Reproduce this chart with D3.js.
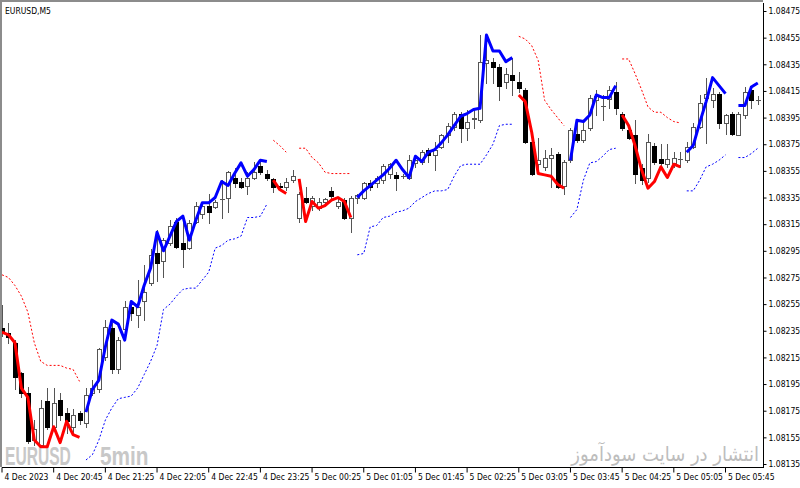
<!DOCTYPE html>
<html>
<head>
<meta charset="utf-8">
<script src="https://cdnjs.cloudflare.com/ajax/libs/d3/7.8.5/d3.min.js"></script>
<style>
  body { margin: 0; background: #fff; }
  svg { display: block; font-family: "DejaVu Sans Condensed", "DejaVu Sans", sans-serif; font-stretch: condensed; }
</style>
</head>
<body>
<div id="chart"></div>
<script>
// EURUSD M5 candles (bar 0 = 4 Dec 20:05)
const N = null;

const opens = [
  1.08237, 1.08233, 1.08226, 1.08203, 1.08188, 1.08153, 1.08149, 1.08182, 1.08163, 1.08183,
  1.08173, 1.08163, 1.08173, 1.08166, 1.08188, 1.08191, 1.08215, 1.08237, 1.08206, 1.08236,
  1.08253, 1.08247, 1.08257, 1.08271, 1.08293, 1.08287, 1.08301, 1.08317, 1.08301, 1.08297,
  1.08317, 1.08323, 1.08329, 1.08328, 1.08334, 1.08335, 1.08350, 1.08347, 1.08344, 1.08350,
  1.08359, 1.08353, 1.08349, 1.08344, 1.08343, 1.08348, 1.08320, 1.08335, 1.08329, 1.08327,
  1.08332, 1.08340, 1.08329, 1.08333, 1.08320, 1.08335, 1.08335, 1.08346, 1.08346, 1.08348,
  1.08353, 1.08352, 1.08351, 1.08350, 1.08361, 1.08362, 1.08371, 1.08367, 1.08373, 1.08382,
  1.08388, 1.08398, 1.08387, 1.08394, 1.08393, 1.08436, 1.08437, 1.08433, 1.08422, 1.08427,
  1.08422, 1.08416, 1.08377, 1.08360, 1.08358, 1.08365, 1.08368, 1.08344, 1.08363, 1.08383,
  1.08378, 1.08387, 1.08408, 1.08404, 1.08409, 1.08414, 1.08398, 1.08386, 1.08382, 1.08357,
  1.08350, 1.08374, 1.08364, 1.08360, 1.08361, 1.08364, 1.08363, 1.08373, 1.08388, 1.08410,
  1.08408, 1.08413, 1.08391, 1.08398, 1.08382, 1.08397, 1.08416, 1.08408
];
const highs = [
  1.08254, 1.08241, 1.08228, 1.08204, 1.08193, 1.08168, 1.08183, 1.08192, 1.08192, 1.08188,
  1.08177, 1.08176, 1.08175, 1.08192, 1.08198, 1.08222, 1.08243, 1.08241, 1.08230, 1.08257,
  1.08257, 1.08273, 1.08284, 1.08296, 1.08311, 1.08305, 1.08318, 1.08320, 1.08322, 1.08318,
  1.08332, 1.08332, 1.08338, 1.08333, 1.08348, 1.08355, 1.08357, 1.08350, 1.08354, 1.08362,
  1.08362, 1.08356, 1.08350, 1.08346, 1.08350, 1.08356, 1.08339, 1.08343, 1.08336, 1.08335,
  1.08335, 1.08343, 1.08335, 1.08335, 1.08336, 1.08338, 1.08347, 1.08348, 1.08351, 1.08360,
  1.08361, 1.08354, 1.08353, 1.08367, 1.08365, 1.08371, 1.08372, 1.08377, 1.08383, 1.08391,
  1.08399, 1.08399, 1.08401, 1.08402, 1.08457, 1.08457, 1.08440, 1.08435, 1.08432, 1.08440,
  1.08429, 1.08417, 1.08378, 1.08380, 1.08371, 1.08372, 1.08369, 1.08363, 1.08387, 1.08393,
  1.08393, 1.08412, 1.08416, 1.08412, 1.08419, 1.08422, 1.08399, 1.08387, 1.08393, 1.08360,
  1.08383, 1.08376, 1.08375, 1.08375, 1.08369, 1.08369, 1.08377, 1.08391, 1.08412, 1.08425,
  1.08417, 1.08414, 1.08398, 1.08399, 1.08399, 1.08418, 1.08418, 1.08411
];
const lows = [
  1.08231, 1.08226, 1.08191, 1.08185, 1.08151, 1.08149, 1.08148, 1.08161, 1.08161, 1.08168,
  1.08158, 1.08158, 1.08165, 1.08163, 1.08187, 1.08189, 1.08213, 1.08203, 1.08203, 1.08233,
  1.08243, 1.08238, 1.08243, 1.08269, 1.08272, 1.08275, 1.08299, 1.08297, 1.08283, 1.08296,
  1.08316, 1.08320, 1.08316, 1.08327, 1.08320, 1.08324, 1.08343, 1.08342, 1.08338, 1.08349,
  1.08353, 1.08348, 1.08339, 1.08341, 1.08341, 1.08347, 1.08317, 1.08331, 1.08326, 1.08326,
  1.08331, 1.08335, 1.08327, 1.08319, 1.08309, 1.08331, 1.08334, 1.08341, 1.08343, 1.08346,
  1.08350, 1.08341, 1.08350, 1.08349, 1.08358, 1.08360, 1.08362, 1.08356, 1.08372, 1.08377,
  1.08386, 1.08377, 1.08378, 1.08387, 1.08392, 1.08421, 1.08421, 1.08408, 1.08417, 1.08412,
  1.08414, 1.08376, 1.08352, 1.08356, 1.08356, 1.08343, 1.08342, 1.08338, 1.08362, 1.08377,
  1.08377, 1.08386, 1.08397, 1.08393, 1.08402, 1.08398, 1.08386, 1.08379, 1.08346, 1.08345,
  1.08347, 1.08360, 1.08358, 1.08358, 1.08358, 1.08358, 1.08362, 1.08372, 1.08387, 1.08376,
  1.08403, 1.08387, 1.08383, 1.08382, 1.08382, 1.08395, 1.08402, 1.08405
];
const closes = [
  1.08233, 1.08230, 1.08200, 1.08188, 1.08152, 1.08161, 1.08177, 1.08163, 1.08181, 1.08172,
  1.08167, 1.08172, 1.08168, 1.08187, 1.08192, 1.08221, 1.08238, 1.08206, 1.08228, 1.08253,
  1.08248, 1.08253, 1.08264, 1.08292, 1.08286, 1.08303, 1.08314, 1.08298, 1.08296, 1.08316,
  1.08329, 1.08329, 1.08324, 1.08332, 1.08334, 1.08354, 1.08346, 1.08343, 1.08350, 1.08354,
  1.08354, 1.08350, 1.08343, 1.08343, 1.08347, 1.08351, 1.08338, 1.08332, 1.08335, 1.08332,
  1.08334, 1.08336, 1.08332, 1.08320, 1.08335, 1.08337, 1.08346, 1.08343, 1.08350, 1.08359,
  1.08360, 1.08350, 1.08351, 1.08363, 1.08363, 1.08369, 1.08367, 1.08371, 1.08382, 1.08389,
  1.08398, 1.08387, 1.08392, 1.08395, 1.08437, 1.08438, 1.08433, 1.08419, 1.08428, 1.08423,
  1.08417, 1.08377, 1.08353, 1.08363, 1.08365, 1.08367, 1.08343, 1.08362, 1.08386, 1.08378,
  1.08386, 1.08410, 1.08411, 1.08404, 1.08416, 1.08402, 1.08387, 1.08380, 1.08353, 1.08348,
  1.08377, 1.08362, 1.08361, 1.08364, 1.08365, 1.08364, 1.08373, 1.08388, 1.08406, 1.08413,
  1.08413, 1.08391, 1.08397, 1.08383, 1.08398, 1.08414, 1.08408, 1.08408
];

// trend line (thick): blue while rising, red while falling
const trendUp = [
  N, N, N, N, N, N, N, N, N, N, N, N, N,
  1.08174, 1.08191, 1.08198, 1.08223, 1.08243, 1.08240, 1.08228, 1.08257, 1.08253, 1.08269,
  1.08282, 1.08309, 1.08295, 1.08306, 1.08317, 1.08321, 1.08303, 1.08318, 1.08331, 1.08331,
  1.08335, 1.08347, 1.08344, 1.08353, 1.08361, 1.08351, 1.08356, 1.08363, 1.08362,
  N, N, N, N, N, N, N, N, N, N, N, N, N,
  1.08335, 1.08340, 1.08344, 1.08348, 1.08352, 1.08357, 1.08363, 1.08356, 1.08350, 1.08366,
  1.08362, 1.08369, 1.08371, 1.08376, 1.08382, 1.08389, 1.08396, 1.08398, 1.08401, 1.08402,
  1.08457, 1.08445, 1.08445, 1.08437, 1.08440,
  N, N, N, N, N, N, N, N,
  1.08363, 1.08393, 1.08392, 1.08397, 1.08412, 1.08410, 1.08410, 1.08419,
  N, N, N, N, N, N, N, N, N, N,
  1.08369, 1.08374, 1.08391, 1.08407, 1.08425, 1.08419, 1.08413,
  N,
  1.08404, 1.08404, 1.08418, 1.08421
];
const trendDown = [
  1.08234, 1.08232, 1.08226, 1.08192, 1.08185, 1.08153, 1.08148, 1.08148, 1.08163, 1.08151,
  1.08167, 1.08157, 1.08155,
  N, N, N, N, N, N, N, N, N, N, N, N, N, N, N, N, N, N, N, N, N, N, N, N, N, N, N, N, N,
  1.08348, 1.08341, 1.08338,
  N,
  1.08349, 1.08317, 1.08332, 1.08327, 1.08329, 1.08333, 1.08335, 1.08332, 1.08320,
  N, N, N, N, N, N, N, N, N, N, N, N, N, N, N, N, N, N, N, N, N, N, N, N, N,
  1.08412, 1.08407, 1.08384, 1.08353, 1.08352, 1.08351, 1.08345, 1.08342,
  N, N, N, N, N, N, N, N,
  1.08397, 1.08389, 1.08374, 1.08356, 1.08342, 1.08347, 1.08358, 1.08350, 1.08360, 1.08358,
  N, N, N, N, N, N, N, N, N, N, N, N
];

// dotted stop levels
const stopUpper = [
  1.08277, 1.08275, 1.08269, 1.08261, 1.08249, 1.08226, 1.08212, 1.08209, 1.08209, 1.08209,
  1.08207, 1.08206, 1.08197,
  N, N, N, N, N, N, N, N, N, N, N, N, N, N, N, N, N, N, N, N, N, N, N, N, N, N, N, N, N,
  1.08378, 1.08374, 1.08369,
  N,
  1.08372, 1.08372, 1.08365, 1.08361, 1.08354, 1.08353, 1.08353, 1.08353, 1.08353,
  N, N, N, N, N, N, N, N, N, N, N, N, N, N, N, N, N, N, N, N, N, N, N, N, N,
  1.08456, 1.08454, 1.08449, 1.08438, 1.08408, 1.08401, 1.08395, 1.08389,
  N, N, N, N, N, N, N, N,
  1.08439, 1.08439, 1.08428, 1.08416, 1.08403, 1.08399, 1.08399, 1.08395, 1.08392, 1.08391,
  N, N, N, N, N, N, N, N, N, N, N, N
];
const stopLower = [
  N, N, N, N, N, N, N, N, N, N, N, N, N,
  1.08138, 1.08142, 1.08153, 1.08168, 1.08177, 1.08184, 1.08185, 1.08186, 1.08192, 1.08202,
  1.08212, 1.08224, 1.08251, 1.08255, 1.08261, 1.08266, 1.08267, 1.08267, 1.08273, 1.08279,
  1.08297, 1.08299, 1.08303, 1.08304, 1.08306, 1.08320, 1.08320, 1.08321, 1.08330,
  N, N, N, N, N, N, N, N, N, N, N, N, N,
  1.08292, 1.08293, 1.08313, 1.08314, 1.08320, 1.08321, 1.08324, 1.08325, 1.08327, 1.08332,
  1.08335, 1.08338, 1.08340, 1.08340, 1.08341, 1.08351, 1.08359, 1.08360, 1.08360, 1.08360,
  1.08367, 1.08375, 1.08389, 1.08390, 1.08390,
  N, N, N, N, N, N, N, N,
  1.08320, 1.08326, 1.08348, 1.08361, 1.08362, 1.08366, 1.08371, 1.08372,
  N, N, N, N, N, N, N, N, N, N,
  1.08340, 1.08340, 1.08348, 1.08358, 1.08360, 1.08363, 1.08367,
  N,
  1.08365, 1.08365, 1.08368, 1.08372
];

const priceTicks = [
  1.08135, 1.08155, 1.08175, 1.08195, 1.08215, 1.08235, 1.08255, 1.08275, 1.08295,
  1.08315, 1.08335, 1.08355, 1.08375, 1.08395, 1.08415, 1.08435, 1.08455, 1.08475
];
const timeTickBars = [0, 8, 16, 24, 32, 40, 48, 56, 64, 72, 80, 88, 96, 104, 112];
const timeTickLabels = [
  "4 Dec 2023", "4 Dec 20:45", "4 Dec 21:25", "4 Dec 22:05", "4 Dec 22:45", "4 Dec 23:25",
  "5 Dec 00:25", "5 Dec 01:05", "5 Dec 01:45", "5 Dec 02:25", "5 Dec 03:05", "5 Dec 03:45",
  "5 Dec 04:25", "5 Dec 05:05", "5 Dec 05:45"
];

const width = 800, height = 488;
const plotL = 2, plotT = 3, plotR = 763, plotB = 467;

const svg = d3.select("#chart").append("svg")
  .attr("width", width)
  .attr("height", height);

const x = d3.scaleLinear().domain([0, opens.length - 1]).range([2, 757.8]);
const y = d3.scaleLinear().domain([1.08135, 1.08475]).range([464, 11]);

svg.append("defs").append("clipPath").attr("id", "plot-clip")
  .append("rect")
  .attr("x", plotL).attr("y", plotT)
  .attr("width", plotR - plotL).attr("height", plotB - plotT);

const plot = svg.append("g").attr("clip-path", "url(#plot-clip)");

// watermarks (sit under the candles), squeezed horizontally like the original
plot.append("text")
  .attr("transform", "translate(5,465) scale(0.6,1)")
  .style("font-family", "'Liberation Sans', sans-serif")
  .style("font-weight", "bold").style("font-size", "26px")
  .style("fill", "#c8c8c8")
  .text("EURUSD");
plot.append("text")
  .attr("transform", "translate(100,465) scale(0.8,1)")
  .style("font-family", "'Liberation Sans', sans-serif")
  .style("font-weight", "bold").style("font-size", "26px")
  .style("fill", "#c8c8c8")
  .text("5min");
plot.append("text")
  .attr("x", 759).attr("y", 461)
  .attr("text-anchor", "end")
  .style("font-family", "'DejaVu Sans', sans-serif")
  .style("font-size", "20px")
  .style("fill", "#bdbdbd")
  .text("انتشار در سایت سودآموز");

// candles
const bars = d3.range(opens.length).map(i => ({
  i, o: opens[i], h: highs[i], l: lows[i], c: closes[i]
}));

const candle = plot.append("g").selectAll("g")
  .data(bars)
  .enter().append("g");

candle.append("line")
  .attr("x1", d => Math.round(x(d.i)) + 0.5)
  .attr("x2", d => Math.round(x(d.i)) + 0.5)
  .attr("y1", d => Math.round(y(d.h)))
  .attr("y2", d => Math.round(y(d.l)) + 1)
  .attr("stroke", "#555")
  .attr("stroke-width", 1);

candle.append("rect")
  .attr("x", d => Math.round(x(d.i)) - 1.5)
  .attr("y", d => Math.round(y(Math.max(d.o, d.c))) + 0.5)
  .attr("width", 4)
  .attr("height", d => Math.max(0.01, Math.round(y(Math.min(d.o, d.c))) - Math.round(y(Math.max(d.o, d.c)))))
  .attr("fill", d => d.c >= d.o ? "#fff" : "#000")
  .attr("stroke", d => d.c >= d.o ? "#555" : "#000")
  .attr("stroke-width", 1);

// dotted stop levels
const line = d3.line()
  .defined(d => d != null)
  .x((d, i) => x(i))
  .y(d => y(d));

plot.append("path").datum(stopUpper)
  .attr("d", line)
  .attr("fill", "none")
  .attr("stroke", "#ff0000")
  .attr("stroke-width", 1)
  .attr("stroke-dasharray", "2,2");

plot.append("path").datum(stopLower)
  .attr("d", line)
  .attr("fill", "none")
  .attr("stroke", "#0000ff")
  .attr("stroke-width", 1)
  .attr("stroke-dasharray", "2,2");

// thick trend line
plot.append("path").datum(trendUp)
  .attr("d", line)
  .attr("fill", "none")
  .attr("stroke", "#0000ff")
  .attr("stroke-width", 3)
  .attr("stroke-linejoin", "round");

plot.append("path").datum(trendDown)
  .attr("d", line)
  .attr("fill", "none")
  .attr("stroke", "#ff0000")
  .attr("stroke-width", 3)
  .attr("stroke-linejoin", "round");

// window frame
svg.append("line").attr("x1", 1).attr("x2", 1).attr("y1", 0).attr("y2", plotB)
  .attr("stroke", "#8c8c8c").attr("stroke-width", 2);
svg.append("line").attr("x1", 0).attr("x2", plotR).attr("y1", 1).attr("y2", 1)
  .attr("stroke", "#8c8c8c").attr("stroke-width", 2);

// price axis on the right
const yAxis = svg.append("g")
  .attr("transform", "translate(" + (plotR + 0.5) + ",0)")
  .call(d3.axisRight(y)
    .tickValues(priceTicks)
    .tickFormat(d3.format(".5f"))
    .tickSize(3)
    .tickPadding(2));
yAxis.select(".domain").attr("d", "M0," + plotT + "V" + (plotB + 1));
yAxis.selectAll("text").style("font-size", "8.5px").style("fill", "#000");
yAxis.selectAll("line,path").attr("stroke", "#000");
yAxis.attr("font-family", null);

// time axis at the bottom
const xAxis = svg.append("g")
  .attr("transform", "translate(0," + (plotB + 0.5) + ")")
  .call(d3.axisBottom(x)
    .tickValues(timeTickBars)
    .tickFormat((d, i) => timeTickLabels[i])
    .tickSize(5));
xAxis.select(".domain").attr("d", "M" + plotL + ",0H" + (plotR + 1));
xAxis.selectAll(".tick line").attr("transform", "translate(-0.5,0)");
xAxis.selectAll("text")
  .attr("text-anchor", "start")
  .attr("x", 2)
  .attr("y", 6)
  .style("font-size", "8.5px")
  .style("fill", "#000");
xAxis.selectAll("line,path").attr("stroke", "#000");
xAxis.attr("font-family", null);

// symbol caption
svg.append("text")
  .attr("x", 5).attr("y", 14)
  .style("font-size", "8.5px")
  .style("fill", "#000")
  .text("EURUSD,M5");
</script>
</body>
</html>
